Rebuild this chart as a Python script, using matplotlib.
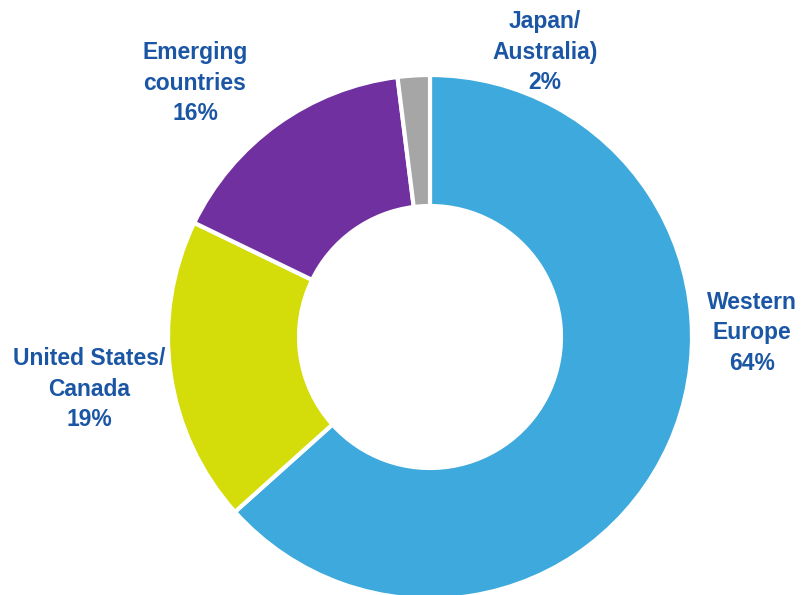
import matplotlib.pyplot as plt
from matplotlib import font_manager

# Regional split of exposure
regions = ["Western\nEurope", "United States/\nCanada", "Emerging\ncountries", "Japan/\nAustralia)"]
shares = [64, 19, 16, 2]
colors = ["#3DA9DC", "#D4DC0A", "#7030A0", "#A6A6A6"]
label_xy = [(752, 333), (89, 389), (195, 83), (545, 52)]

names = {f.name for f in font_manager.fontManager.ttflist}
family = "Liberation Sans Narrow" if "Liberation Sans Narrow" in names else "Liberation Sans"

W, H = 807, 595
fig = plt.figure(figsize=(W / 100, H / 100), dpi=100)
ax = fig.add_axes([0, 0, 1, 1])

cx, cy, r = 430, H - 337, 262
ax.pie(shares, colors=colors, startangle=90, counterclock=False,
       center=(cx, cy), radius=r,
       wedgeprops=dict(width=r * 0.5, edgecolor="white", linewidth=3))

ax.set_xlim(0, W)
ax.set_ylim(0, H)
ax.set_aspect("equal")
ax.axis("off")

for name, val, (x, y) in zip(regions, shares, label_xy):
    ax.text(x, H - y, f"{name}\n{val}%", ha="center", va="center",
            fontsize=16.5, fontweight="bold", color="#1B56A4",
            family=family, linespacing=1.4)

fig.savefig("out.png", dpi=100)
